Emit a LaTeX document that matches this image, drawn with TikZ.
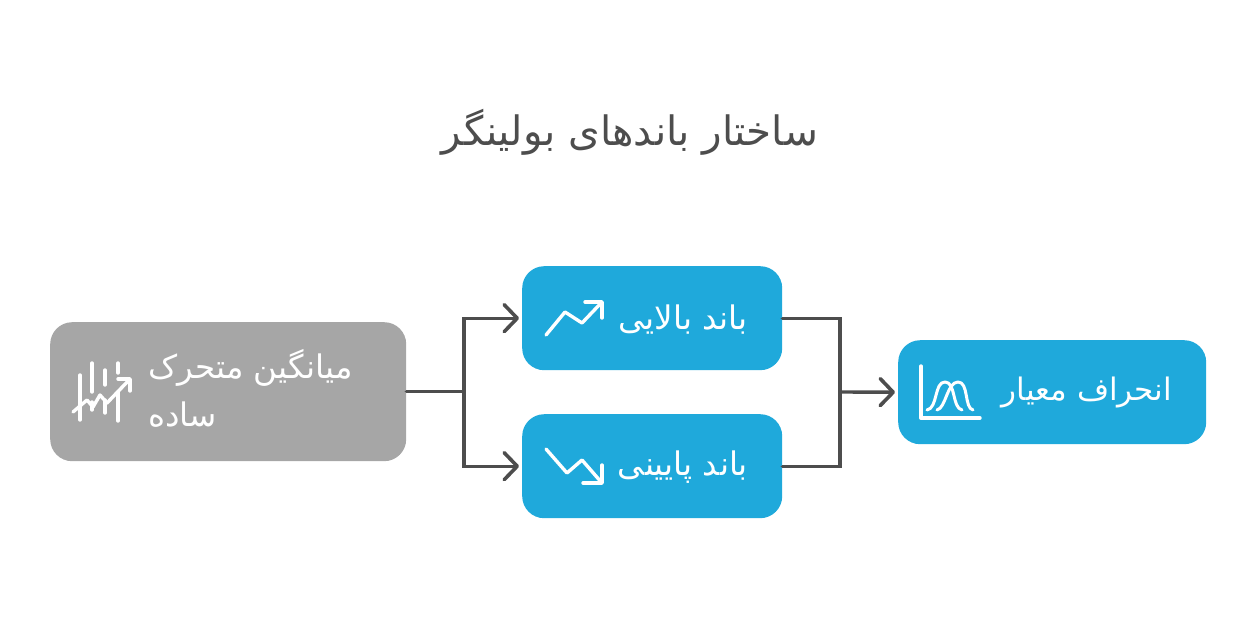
\documentclass[tikz,border=0pt]{standalone}
\usepackage{fontspec}
\usetikzlibrary{arrows.meta,calc}
\setmainfont{DejaVu Sans}
\newfontfamily\arabicfont[Script=Arabic]{DejaVu Sans}
\TeXXeTstate=1
\definecolor{boxblue}{HTML}{1FA9DB}
\definecolor{boxgray}{HTML}{A6A6A6}
\definecolor{linegray}{HTML}{4D4D4D}
\tikzset{
  box/.style={draw=none,rounded corners=22pt,inner sep=0pt,anchor=north west},
  label/.style={text=white,inner sep=0pt,font=\arabicfont\fontsize{32.5}{48}\selectfont},
  link/.style={draw=linegray,line width=3.4pt,line cap=round,line join=miter},
  linkarrow/.style={link,shorten >=3pt,-{Straight Barb[length=13pt,width=27pt,line width=3.6pt,round]}},
  glyph/.style={draw=white,line width=3.4pt,line cap=round,line join=round}
}
\begin{document}
\begin{tikzpicture}[x=1pt,y=-1pt]
\useasboundingbox (0,0) rectangle (1256,616);
\node[inner sep=0pt,text=linegray,font=\arabicfont\fontsize{40.5}{48}\selectfont] (title) at (630,132) {\beginR ساختار باندهای بولینگر\endR};

\node[box,fill=boxgray,minimum width=356pt,minimum height=139pt] (sma) at (50,322) {};
\node[box,fill=boxblue,minimum width=260pt,minimum height=104pt] (upper) at (522,266) {};
\node[box,fill=boxblue,minimum width=260pt,minimum height=104pt] (lower) at (522,414) {};
\node[box,fill=boxblue,minimum width=308pt,minimum height=104pt] (std) at (898,340) {};

\node[label,anchor=west,align=left] (smatext) at (148,388) {\beginR میانگین متحرک\endR\\\beginR ساده\endR};
\node[label] (uppertext) at (683,320) {\beginR باند بالایی\endR};
\node[label] (lowertext) at (683,467) {\beginR باند پایینی\endR};
\node[label,font=\arabicfont\fontsize{31}{40}\selectfont] (stdtext) at (1087,393) {\beginR انحراف معیار\endR};

\coordinate (split) at (464,391.5);
\coordinate (merge) at (840,392);
\draw[link] (sma.east) -- (sma.east -| split);
\draw[linkarrow] (sma.east -| split) |- (upper.west);
\draw[linkarrow] (sma.east -| split) |- (lower.west);
\draw[link] (upper.east) -| (merge);
\draw[link] (lower.east) -| (merge);
\draw[linkarrow] (merge) -- (std.west);

% icon: moving average
\draw[glyph] (80,375) -- (80,420);
\draw[glyph] (92,363) -- (92,392) (92,402) -- (92,410);
\draw[glyph] (105,370) -- (105,385) (105,400) -- (105,413);
\draw[glyph] (118,363) -- (118,373) (118,392) -- (118,421);
\draw[glyph] (73,412) -- (87,400) -- (93,407) -- (100,395) -- (107,403) -- (130,379);
\draw[glyph] (118,379) -- (130,379) -- (130,391);
% icon: up
\draw[glyph] (546,335) -- (565,312) -- (582,323) -- (602,302);
\draw[glyph] (585,302) -- (602,302) -- (602,318);
% icon: down
\draw[glyph] (546,449) -- (567,473) -- (582,460) -- (602,483);
\draw[glyph] (583,483) -- (602,483) -- (602,465);
% icon: bell curves
\draw[glyph] (921,366) -- (921,418) -- (980,418);
\draw[glyph,line width=3pt] (927,410) .. controls (938,408) and (934,382) .. (945,382) .. controls (956,382) and (952,408) .. (962,410);
\draw[glyph,line width=3pt] (937,410) .. controls (946,408) and (947,382) .. (958,382) .. controls (969,382) and (964,408) .. (973,410);
\end{tikzpicture}
\end{document}
